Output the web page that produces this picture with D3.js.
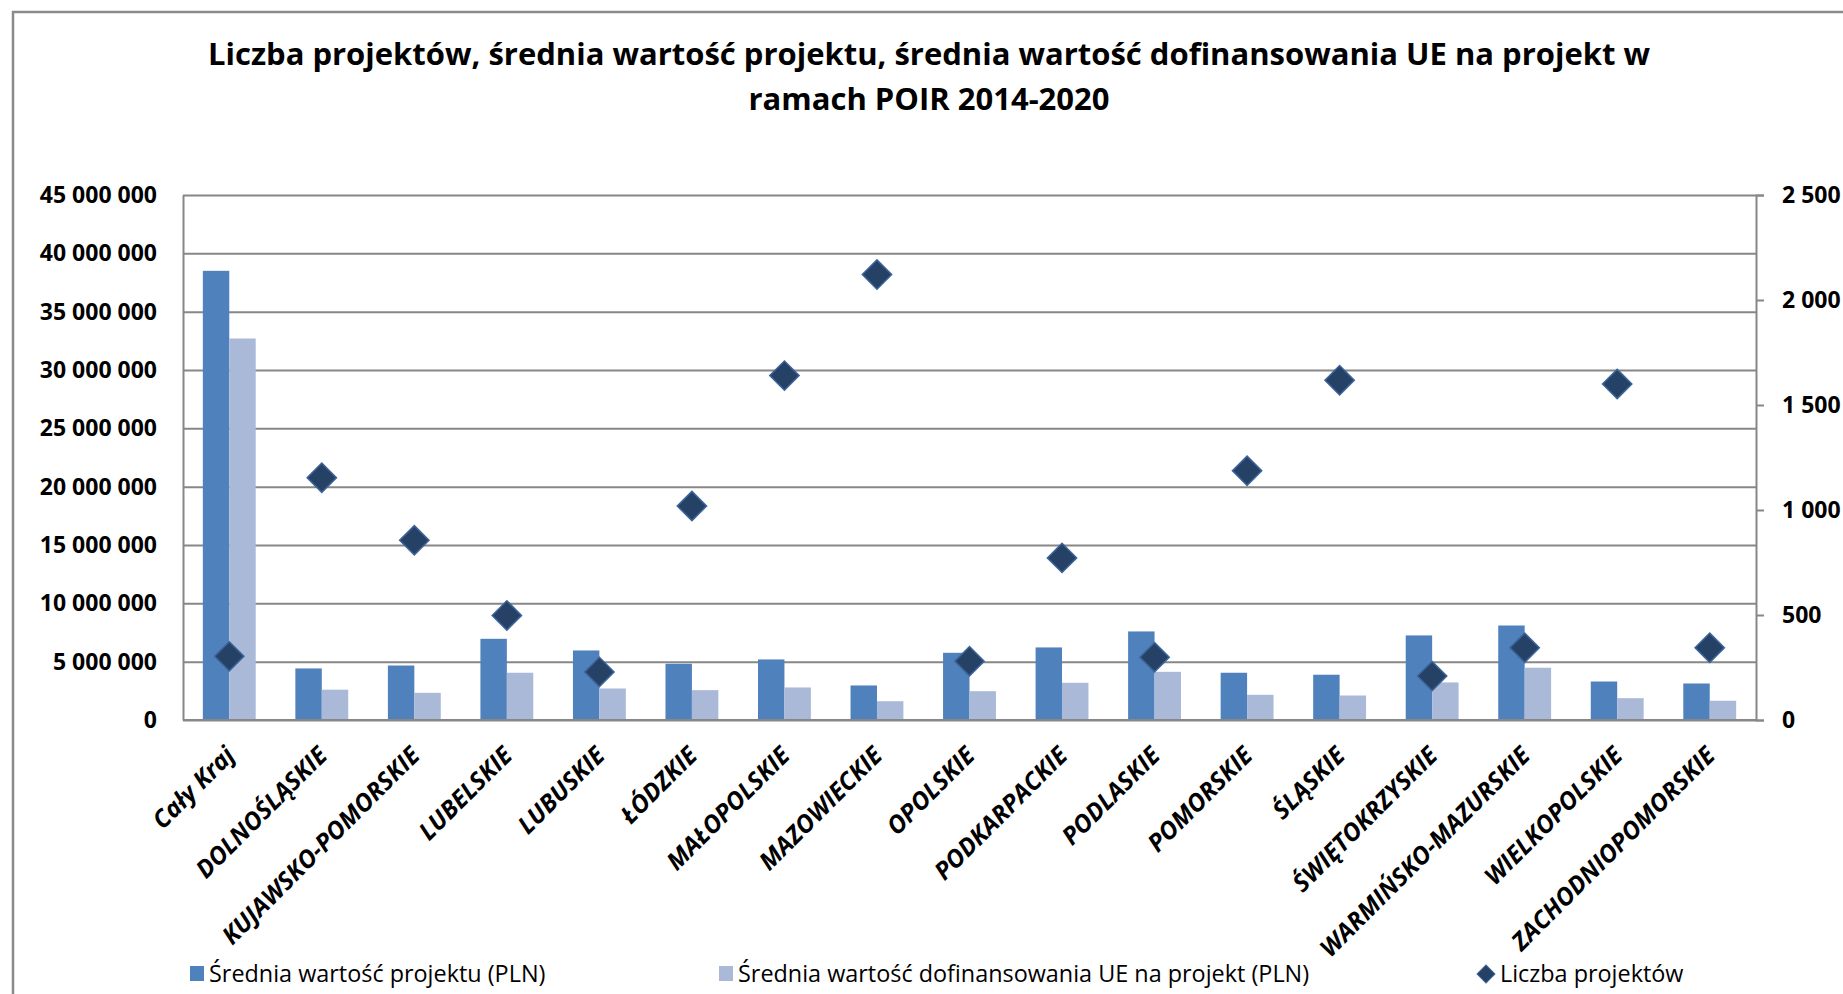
<!DOCTYPE html>
<html>
<head>
<meta charset="utf-8">
<script src="https://cdn.jsdelivr.net/npm/d3@7"></script>
<style>
  body { margin: 0; background: #fff; }
  svg { display: block; font-family: "Open Sans", sans-serif; }
</style>
</head>
<body>
<div id="chart"></div>
<script>
const width = 1843;
const height = 994;

const categories = ["Cały Kraj", "DOLNOŚLĄSKIE", "KUJAWSKO-POMORSKIE", "LUBELSKIE", "LUBUSKIE", "ŁÓDZKIE",
    "MAŁOPOLSKIE", "MAZOWIECKIE", "OPOLSKIE", "PODKARPACKIE", "PODLASKIE", "POMORSKIE", "ŚLĄSKIE",
    "ŚWIĘTOKRZYSKIE", "WARMIŃSKO-MAZURSKIE", "WIELKOPOLSKIE", "ZACHODNIOPOMORSKIE"];
const avgValue = [38500000, 4420000, 4670000, 6960000, 5960000, 4820000, 5190000, 2960000, 5760000,
    6220000, 7590000, 4050000, 3880000, 7250000, 8100000, 3300000, 3130000];
const avgEU = [32700000, 2600000, 2330000, 4050000, 2700000, 2560000, 2790000, 1610000, 2470000,
    3190000, 4130000, 2160000, 2100000, 3220000, 4480000, 1870000, 1650000];
const projectCount = [303, 1154, 856, 498, 229, 1019, 1640, 2121, 280, 772, 299, 1187, 1618, 209, 344, 1600, 344];

const seriesNames = ["Średnia wartość projektu (PLN)", "Średnia wartość dofinansowania UE na projekt (PLN)", "Liczba projektów"];
const leftTicks = d3.range(0, 45000001, 5000000);
const rightTicks = d3.range(0, 2501, 500);

const colors = { value: "#4F81BD", eu: "#AAB9D8", diamond: "#254266", diamondEdge: "#3D649A", grid: "#878787" };

const pl = d3.formatLocale({ decimal: ",", thousands: " ", grouping: [3], currency: ["", " zł"] });
const fmt = pl.format(",");

function drawChart() {
    const usable = { left: 183, right: 1756, top: 195, bottom: 720 };

    const svg = d3.select("#chart")
        .append("svg")
        .attr("width", width)
        .attr("height", height);

    // outer chart frame (runs off the right / bottom edge)
    svg.append("rect")
        .attr("x", 13).attr("y", 12)
        .attr("width", width + 20).attr("height", height + 20)
        .style("fill", "none")
        .style("stroke", "#8a8a8a")
        .style("stroke-width", 2.5);

    svg.append("text")
        .attr("x", 929).attr("y", 65)
        .attr("text-anchor", "middle")
        .style("font-size", "31px").style("font-weight", 700)
        .text("Liczba projektów, średnia wartość projektu, średnia wartość dofinansowania UE na projekt w");
    svg.append("text")
        .attr("x", 929).attr("y", 110)
        .attr("text-anchor", "middle")
        .style("font-size", "31px").style("font-weight", 700)
        .text("ramach POIR 2014-2020");

    const xScale = d3.scaleBand()
        .domain(categories)
        .range([usable.left, usable.right])
        .padding(0);

    const barW = xScale.bandwidth() / 3.5;
    const xInner = d3.scaleBand().domain(["value", "eu"]).range([0, barW * 2]).padding(0);

    const yLeft = d3.scaleLinear().domain([0, 45000000]).range([usable.bottom, usable.top]);
    const yRight = d3.scaleLinear().domain([0, 2500]).range([usable.bottom, usable.top]);

    // gridlines
    svg.append("g")
        .attr("transform", `translate(${usable.left},0)`)
        .call(d3.axisLeft(yLeft).tickValues(leftTicks).tickSize(-(usable.right - usable.left)).tickFormat(""))
        .call(g => g.select(".domain").remove())
        .call(g => g.selectAll("line").style("stroke", colors.grid).style("stroke-width", 2));

    // left tick labels
    svg.append("g")
        .attr("transform", `translate(${usable.left},0)`)
        .call(d3.axisLeft(yLeft).tickValues(leftTicks).tickSize(0).tickPadding(26).tickFormat(fmt))
        .call(g => g.select(".domain").style("stroke", colors.grid).style("stroke-width", 2))
        .call(g => g.selectAll("text")
            .style("font-family", "Open Sans").style("font-size", "23px")
            .style("font-weight", 700).style("fill", "#000"));

    // right axis
    svg.append("g")
        .attr("transform", `translate(${usable.right},0)`)
        .call(d3.axisRight(yRight).tickValues(rightTicks).tickSize(8).tickPadding(18).tickFormat(fmt))
        .call(g => g.select(".domain").style("stroke", colors.grid).style("stroke-width", 2))
        .call(g => g.selectAll("line").style("stroke", colors.grid).style("stroke-width", 2))
        .call(g => g.selectAll("text")
            .style("font-family", "Open Sans").style("font-size", "23px")
            .style("font-weight", 700).style("fill", "#000"));

    // bars
    const rows = categories.map((c, i) => ({ cat: c, value: avgValue[i], eu: avgEU[i], count: projectCount[i] }));
    const groups = svg.append("g").selectAll("g")
        .data(rows)
        .join("g")
        .attr("transform", d => `translate(${xScale(d.cat) + xScale.bandwidth() / 2 - barW},0)`);

    groups.selectAll("rect")
        .data(d => ["value", "eu"].map(k => ({ key: k, v: d[k] })))
        .join("rect")
        .attr("x", d => xInner(d.key))
        .attr("width", xInner.bandwidth())
        .attr("y", d => yLeft(d.v))
        .attr("height", d => yLeft(0) - yLeft(d.v))
        .style("fill", d => colors[d.key]);

    // bottom axis line
    svg.append("line")
        .attr("x1", usable.left).attr("x2", usable.right)
        .attr("y1", usable.bottom).attr("y2", usable.bottom)
        .style("stroke", colors.grid).style("stroke-width", 2);

    // diamonds for number of projects
    const diamond = d3.symbol().type(d3.symbolSquare).size(430);
    svg.append("g").selectAll("path")
        .data(rows)
        .join("path")
        .attr("d", diamond)
        .attr("transform", d => `translate(${xScale(d.cat) + xScale.bandwidth() / 2},${yRight(d.count)}) rotate(45)`)
        .style("fill", colors.diamond)
        .style("stroke", colors.diamondEdge)
        .style("stroke-width", 1.5);

    // category labels
    svg.append("g").selectAll("text")
        .data(categories)
        .join("text")
        .attr("text-anchor", "end")
        .attr("transform", d => `translate(${xScale(d) + xScale.bandwidth() / 2 + 7},757) rotate(-45)`)
        .style("font-size", "24.5px")
        .style("font-weight", 700)
        .style("font-style", "italic")
        .text(d => d);

    // legend
    const legend = svg.append("g");
    legend.append("rect").attr("x", 190).attr("y", 966).attr("width", 14).attr("height", 15).style("fill", colors.value);
    legend.append("text").attr("x", 209).attr("y", 982).style("font-size", "23.4px").text(seriesNames[0]);
    legend.append("rect").attr("x", 719).attr("y", 966).attr("width", 14).attr("height", 15).style("fill", colors.eu);
    legend.append("text").attr("x", 738).attr("y", 982).style("font-size", "23.4px").text(seriesNames[1]);
    legend.append("path")
        .attr("d", d3.symbol().type(d3.symbolSquare).size(160)())
        .attr("transform", "translate(1486,974) rotate(45)")
        .style("fill", colors.diamond).style("stroke", colors.diamondEdge).style("stroke-width", 1);
    legend.append("text").attr("x", 1500).attr("y", 982).style("font-size", "23.4px").text(seriesNames[2]);
}

document.addEventListener("DOMContentLoaded", () => {
    drawChart();
});
</script>
</body>
</html>
